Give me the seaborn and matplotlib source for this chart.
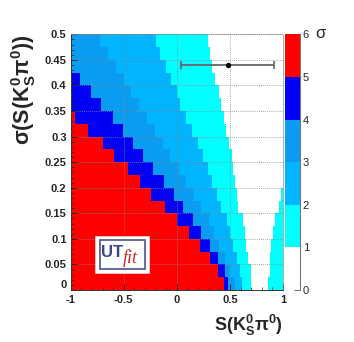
import matplotlib
matplotlib.use("Agg")
import matplotlib.pyplot as plt
import numpy as np
import pandas as pd
import seaborn as sns
from matplotlib.colors import ListedColormap
from matplotlib.patches import Rectangle

# measurement shown as the point with horizontal error bar
meas_s = 0.48
meas_s_err = 0.44
meas_sigma = 0.44

# rows of sigma(S), lower edges, bottom to top (bin width 0.025)
row_low = [0.0, 0.025, 0.05, 0.075, 0.1, 0.125, 0.15, 0.175, 0.2, 0.225,
           0.25, 0.275, 0.3, 0.325, 0.35, 0.375, 0.4, 0.425, 0.45, 0.475]

# S value where each sigma band ends in every row
edge_5sig = [0.44, 0.39, 0.31, 0.22, 0.11, 0.00, -0.115, -0.24, -0.35, -0.46,
             -0.59, -0.70, -0.84, -0.96, -1.0, -1.0, -1.0, -1.0, -1.0, -1.0]
edge_4sig = [0.485, 0.45, 0.39, 0.31, 0.23, 0.15, 0.055, -0.03, -0.125, -0.22,
             -0.32, -0.415, -0.51, -0.60, -0.71, -0.805, -0.915, -1.0, -1.0, -1.0]
edge_3sig = [0.545, 0.50, 0.45, 0.40, 0.35, 0.30, 0.23, 0.16, 0.09, 0.02,
             -0.06, -0.13, -0.21, -0.28, -0.36, -0.43, -0.50, -0.57, -0.65, -0.72]
edge_2sig = [0.61, 0.595, 0.565, 0.53, 0.50, 0.47, 0.42, 0.375, 0.33, 0.29,
             0.25, 0.195, 0.14, 0.09, 0.03, 0.0, -0.055, -0.10, -0.16, -0.195]
edge_1sig = [0.70, 0.695, 0.675, 0.655, 0.64, 0.625, 0.58, 0.565, 0.545, 0.53,
             0.515, 0.49, 0.46, 0.445, 0.42, 0.40, 0.36, 0.335, 0.31, 0.295]
edge_1sig_right = [0.86, 0.875, 0.88, 0.89, 0.91, 0.925, 0.96, 0.98, 1.0, 1.0,
                   1.0, 1.0, 1.0, 1.0, 1.0, 1.0, 1.0, 1.0, 1.0, 1.0]

band_colors = ["#ffffff", "#00ffff", "#00b4ff", "#0a9cf0", "#0000f5", "#ff0000"]
x_ticks = [-1, -0.5, 0, 0.5, 1]
x_ticklabels = ["-1", "-0.5", "0", "0.5", "1"]
y_ticks = [0, 0.05, 0.1, 0.15, 0.2, 0.25, 0.3, 0.35, 0.4, 0.45, 0.5]
y_ticklabels = ["0", "0.05", "0.1", "0.15", "0.2", "0.25", "0.3", "0.35", "0.4", "0.45", "0.5"]
cbar_ticks = [0, 1, 2, 3, 4, 5, 6]

sns.set_theme(style="ticks")
plt.rcParams["font.family"] = ["Liberation Sans", "DejaVu Sans"]
plt.rcParams["mathtext.fontset"] = "custom"
plt.rcParams["mathtext.rm"] = "Liberation Sans"
plt.rcParams["mathtext.bf"] = "Liberation Sans:bold"
plt.rcParams["mathtext.it"] = "Liberation Sans:italic"

# fine columns in S, each cell gets the band it falls in
n_cols = 400
s_centres = -1 + (np.arange(n_cols) + 0.5) * (2.0 / n_cols)
grid = np.zeros((len(row_low), n_cols))
for i in range(len(row_low)):
    s = s_centres
    g = np.full(n_cols, 1.5)
    g[s < edge_1sig_right[i]] = 0.5
    g[s < edge_1sig[i]] = 1.5
    g[s < edge_2sig[i]] = 2.5
    g[s < edge_3sig[i]] = 3.5
    g[s < edge_4sig[i]] = 4.5
    g[s < edge_5sig[i]] = 5.5
    grid[i] = g
df = pd.DataFrame(grid[::-1], index=row_low[::-1], columns=s_centres)

fig = plt.figure(figsize=(3.54, 3.42), dpi=100)
rect = [0.1997, 0.152, 0.5997, 0.7477]
ax = fig.add_axes(rect)
cax = fig.add_axes([0.805, 0.152, 0.042, 0.7477])

sns.heatmap(df, ax=ax, cmap=ListedColormap(band_colors), vmin=0, vmax=6,
            xticklabels=False, yticklabels=False, cbar_ax=cax,
            cbar_kws={"ticks": cbar_ticks})
ax.set_xlabel("")
ax.set_ylabel("")

# colorbar styling (ROOT-like)
cax.tick_params(direction="in", length=4, width=0.6, color="#555555",
                labelsize=8, pad=2)
cax.set_yticklabels([str(t) for t in cbar_ticks])
cax.spines["right"].set_visible(True)
cax.spines["right"].set_color("#777777")
cax.spines["right"].set_linewidth(0.8)
fig.text(0.904, 0.903, "σ", fontsize=12, ha="center", va="center")

# overlay axes in real coordinates
ax2 = fig.add_axes(rect, facecolor="none")
ax2.set_xlim(-1, 1)
ax2.set_ylim(0, 0.5)
ax2.set_xticks(x_ticks)
ax2.set_xticklabels(x_ticklabels)
ax2.set_yticks(y_ticks)
ax2.set_yticklabels(y_ticklabels)
ax2.set_xticks(np.arange(-1, 1.01, 0.1), minor=True)
ax2.set_yticks(np.arange(0, 0.501, 0.01), minor=True)
ax2.tick_params(which="major", direction="in", length=4, width=0.7, labelsize=8)
ax2.tick_params(axis="x", which="major", pad=3.5)
ax2.tick_params(axis="y", which="major", pad=3)
ax2.tick_params(which="minor", direction="in", length=2, width=0.5)
for lbl in ax2.get_xticklabels() + ax2.get_yticklabels():
    lbl.set_fontweight("bold")
ax2.get_yticklabels()[0].set_va("bottom")
ax2.grid(True, which="major", color="#888888", linestyle=(0, (1, 1.5)), linewidth=0.6)
for side in ["top", "right"]:
    ax2.spines[side].set_linestyle((0, (1, 1.5)))
    ax2.spines[side].set_color("#888888")
    ax2.spines[side].set_linewidth(0.6)
for side in ["left", "bottom"]:
    ax2.spines[side].set_color("#333333")
    ax2.spines[side].set_linewidth(0.7)

eb = ax2.errorbar([meas_s], [meas_sigma], xerr=[meas_s_err], fmt="o", ms=2.8,
                  color="black", ecolor="#666666", elinewidth=1.3, capsize=3,
                  capthick=1.2)
for cap in eb[1]:
    cap.set_color("black")

ax2.set_xlabel(r"$\mathbf{S(K^0_S\pi^0)}$", fontsize=13, loc="right", labelpad=6)
ax2.set_ylabel(r"$\mathbf{\sigma(S(K^0_S\pi^0))}$", fontsize=15.5, loc="top", labelpad=5)

# UTfit logo box
ax2.add_patch(Rectangle((0.116, 0.065), 0.251, 0.146, transform=ax2.transAxes,
                        facecolor="white", edgecolor="#dddddd", linewidth=0.5, zorder=5))
ax2.add_patch(Rectangle((0.137, 0.081), 0.212, 0.115, transform=ax2.transAxes,
                        facecolor="none", edgecolor="#5a5f9a", linewidth=1.3, zorder=6))
ax2.text(0.143, 0.128, "UT", transform=ax2.transAxes, fontsize=12, fontweight="bold",
         color="#3b4589", ha="left", va="baseline", zorder=7)
ax2.text(0.247, 0.106, "fit", transform=ax2.transAxes, fontsize=13, style="italic",
         family=["Liberation Serif", "DejaVu Serif"], color="#cc2a2a",
         ha="left", va="baseline", zorder=7)

fig.savefig("out.png", dpi=100)
